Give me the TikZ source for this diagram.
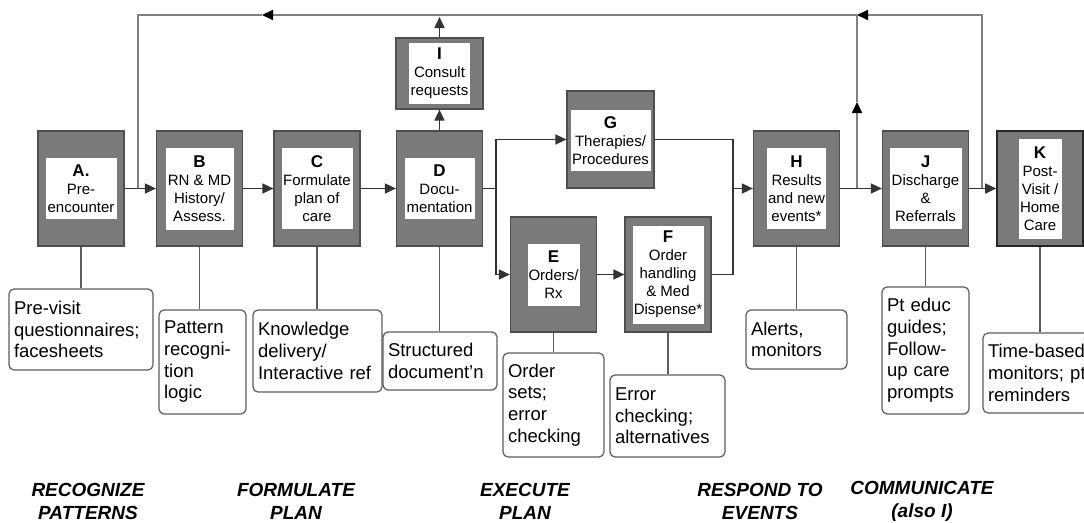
\documentclass[tikz,border=0pt]{standalone}
\usepackage{fontspec}
\setmainfont{Liberation Sans}
\usetikzlibrary{arrows.meta}

\definecolor{stagegray}{HTML}{7A7A7A}
\definecolor{edgegray}{HTML}{4E4E4E}
\definecolor{linegray}{HTML}{5C5C5C}
\definecolor{feedgray}{HTML}{808080}
\newcommand{\stagelet}[1]{{\fontsize{17}{18}\selectfont\bfseries #1}}

\begin{document}
\begin{tikzpicture}[x=1pt,y=-1pt,
    stagebox/.style={draw=edgegray,line width=1.2pt,fill=stagegray,minimum width=86pt,minimum height=115pt,inner sep=0pt},
    stagetext/.style={fill=white,inner sep=0pt,align=center,font=\fontsize{15}{18}\selectfont},
    notebox/.style={draw=linegray,line width=1.2pt,rounded corners=5pt,align=left,inner xsep=5pt,inner ysep=0pt,font=\fontsize{18.5}{21.7}\selectfont},
    phaselabel/.style={align=center,font=\fontsize{19}{23}\selectfont\bfseries\itshape},
    flowarrow/.style={draw=black!80,line width=1.6pt,-{Triangle[length=11pt,width=10pt]}},
    flowline/.style={draw=black!80,line width=1.6pt},
    feedline/.style={draw=feedgray,line width=1.8pt},
    feedarrow/.style={feedline,-{Triangle[length=11pt,width=10pt,color=black]}},
    notelink/.style={draw=linegray,line width=1.2pt}]
        \clip(0,0)rectangle(1084,522);

        \node[stagebox](a)at(81,188.5){};
        \node[stagetext,minimum width=71pt,minimum height=61pt]at(a){\stagelet{A.}\\Pre-\\encounter};
        \node[stagebox](b)at(199.5,188.5){};
        \node[stagetext,minimum width=68pt,minimum height=82pt]at(b){\stagelet{B}\\RN \& MD\\History/\\Assess.};
        \node[stagebox](c)at(317,188.5){};
        \node[stagetext,minimum width=71pt,minimum height=81pt]at(c){\stagelet{C}\\Formulate\\plan of\\care};
        \node[stagebox](d)at(439.5,188.5){};
        \node[stagetext,minimum width=70pt,minimum height=61pt]at(d){\stagelet{D}\\Docu-\\mentation};
        \node[stagebox,minimum width=87pt,minimum height=71pt](i)at(439.5,73.5){};
        \node[stagetext,minimum width=61pt,minimum height=61pt]at(i){\stagelet{I}\\Consult\\requests};
        \node[stagebox,minimum width=87pt,minimum height=97pt](g)at(610.5,139.5){};
        \node[stagetext,minimum width=80pt,minimum height=61pt]at(610.5,140.5){\stagelet{G}\\Therapies/\\Procedures};
        \node[stagebox](e)at(553.5,274.5){};
        \node[stagetext,minimum width=52pt,minimum height=62pt]at(e){\stagelet{E}\\Orders/\\Rx};
        \node[stagebox](f)at(668,274.5){};
        \node[stagetext,minimum width=71pt,minimum height=98pt]at(f){\stagelet{F}\\Order\\handling\\\& Med\\Dispense*};
        \node[stagebox](h)at(796.5,188.5){};
        \node[stagetext,minimum width=59pt,minimum height=81pt]at(h){\stagelet{H}\\Results\\and new\\events*};
        \node[stagebox](j)at(925.5,188.5){};
        \node[stagetext,minimum width=72pt,minimum height=81pt]at(j){\stagelet{J}\\Discharge\\\&\\Referrals};
        \node[stagebox,draw=black!85,line width=1.6pt](k)at(1040,188.5){};
        \node[stagetext,minimum width=43pt,minimum height=100pt]at(k){\stagelet{K}\\Post-\\Visit /\\Home\\Care};

        \node[notebox,text width=134pt,minimum height=81pt](na)at(81,329.5){Pre-visit\\questionnaires;\\facesheets};
        \node[notebox,text width=77pt,minimum height=104pt](nb)at(202.5,362){Pattern\\recogni-\\tion\\logic};
        \node[notebox,text width=119pt,minimum height=82pt](nc)at(317.5,351){Knowledge\\delivery/\\Interactive ref};
        \node[notebox,text width=104pt,minimum height=58pt](nd)at(440,361){Structured\\document'n};
        \node[notebox,text width=91pt,minimum height=104pt](ne)at(553.5,405){Order\\sets;\\error\\checking};
        \node[notebox,text width=105pt,minimum height=82pt](nf)at(667.5,416){Error\\checking;\\alternatives};
        \node[notebox,text width=91pt,minimum height=59pt](nh)at(796.5,339.5){Alerts,\\monitors};
        \node[notebox,text width=77pt,minimum height=127pt](nj)at(925.5,350.5){Pt educ\\guides;\\Follow-\\up care\\prompts};
        \node[notebox,text width=110pt,minimum height=80pt](nk)at(1043,373){Time-based\\monitors; pt\\reminders};

        \node[phaselabel](p-rec)at(88,501){RECOGNIZE\\PATTERNS};
        \node[phaselabel](p-for)at(296,501){FORMULATE\\PLAN};
        \node[phaselabel](p-exe)at(525,501){EXECUTE\\PLAN};
        \node[phaselabel](p-res)at(760,501){RESPOND TO\\EVENTS};
        \node[phaselabel](p-com)at(922,501){COMMUNICATE\\(also I)};

        \coordinate(fb-a)at(138,188.5);
        \coordinate(top-a)at(138,15);
        \coordinate(top-mid)at(262,15);
        \coordinate(top-h)at(857,15);
        \coordinate(mid-h)at(857,102);
        \coordinate(fb-h)at(857,188.5);
        \coordinate(fb-j)at(982,188.5);
        \coordinate(split-d)at(496,188.5);
        \coordinate(merge-h)at(733,188.5);

        \draw[feedarrow](fb-j)|-(top-h);
        \draw[feedarrow](top-h)--(top-mid);
        \draw[feedline](top-mid)-|(fb-a);
        \draw[feedarrow](fb-h)--(mid-h);
        \draw[feedline](mid-h)--(top-h);

        \draw[flowarrow](a)--(b);
        \draw[flowarrow](b)--(c);
        \draw[flowarrow](c)--(d);
        \draw[flowarrow](d)--(i);
        \draw[flowarrow,shorten >=2pt](i.north)--(i.north|-top-a);
        \draw[flowarrow](d.east)--(split-d)|-(g.west);
        \draw[flowarrow](split-d)|-(e.west);
        \draw[flowarrow](e)--(f);
        \draw[flowarrow](g.east)-|(merge-h)--(h.west);
        \draw[flowline](f.east)-|(merge-h);
        \draw[flowarrow](h)--(j);
        \draw[flowarrow](j)--(k);

        \draw[notelink](a)--(a|-na.north);
        \draw[notelink](b)--(b|-nb.north);
        \draw[notelink](c)--(c|-nc.north);
        \draw[notelink](d)--(d|-nd.north);
        \draw[notelink](e)--(e|-ne.north);
        \draw[notelink](f)--(f|-nf.north);
        \draw[notelink](h)--(h|-nh.north);
        \draw[notelink](j)--(j|-nj.north);
        \draw[notelink](k)--(k|-nk.north);
    \end{tikzpicture}
\end{document}
